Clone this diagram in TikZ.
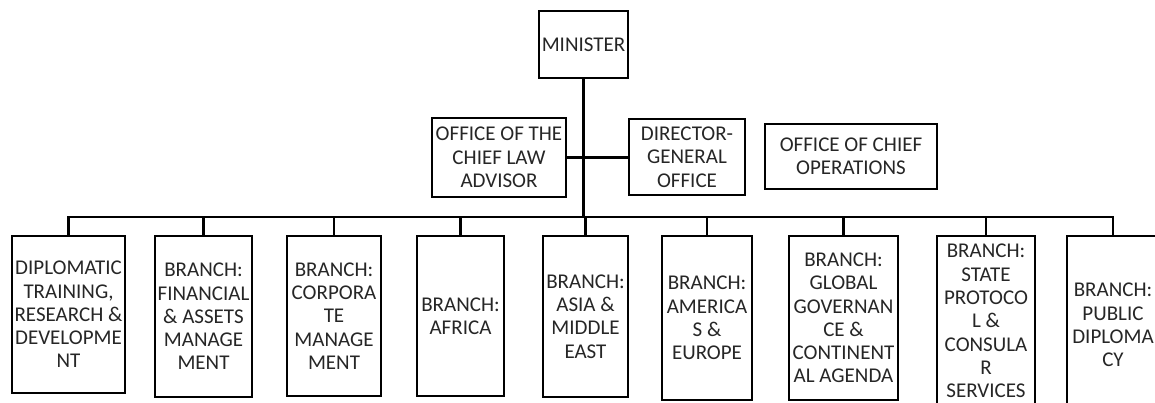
\documentclass[tikz,border=0pt]{standalone}
\usepackage{fontspec}
\setmainfont{Carlito}
\begin{document}
\begin{tikzpicture}[x=1pt,y=-1pt,
  box/.style={draw=black,line width=2.8pt,inner sep=0pt,fill=white},
  txt/.style={align=center,inner sep=0pt,text=black!85,font=\fontsize{21}{23.3}\selectfont},
  conn/.style={draw=black,line width=2.8pt}]
\useasboundingbox (0,0) rectangle (1155,403);
% top boxes
\node[box,minimum width=89pt,minimum height=67pt] (min) at (583.5,44.5) {};
\node[txt] (mint) at (min) {MINISTER};
\node[box,minimum width=134pt,minimum height=79pt] (law) at (499,157.5) {};
\node[txt] (lawt) at (law) {OFFICE OF THE\\CHIEF LAW\\ADVISOR};
\node[box,minimum width=116pt,minimum height=76pt] (dg) at (687,157) {};
\node[txt] (dgt) at (dg) {DIRECTOR-\\GENERAL\\OFFICE};
\node[box,minimum width=172pt,minimum height=65pt] (ops) at (851,156.5) {};
\node[txt] (opst) at (ops) {OFFICE OF CHIEF\\OPERATIONS};
% bottom boxes
\node[box,minimum width=113pt,minimum height=157pt] (b1) at (68.5,314.5) {};
\node[txt] (b1t) at (b1) {DIPLOMATIC\\TRAINING,\\RESEARCH \&\\DEVELOPME\\NT};
\node[box,minimum width=97pt,minimum height=161pt] (b2) at (203.5,316.5) {};
\node[txt] (b2t) at (b2) {BRANCH:\\FINANCIAL\\\& ASSETS\\MANAGE\\MENT};
\node[box,minimum width=94pt,minimum height=160pt] (b3) at (334,316) {};
\node[txt] (b3t) at (b3) {BRANCH:\\CORPORA\\TE\\MANAGE\\MENT};
\node[box,minimum width=87pt,minimum height=160pt] (b4) at (460.5,316) {};
\node[txt] (b4t) at (b4) {BRANCH:\\AFRICA};
\node[box,minimum width=85pt,minimum height=161pt] (b5) at (585.5,316.5) {};
\node[txt] (b5t) at (b5) {BRANCH:\\ASIA \&\\MIDDLE\\EAST};
\node[box,minimum width=90pt,minimum height=164pt] (b6) at (707,318) {};
\node[txt] (b6t) at (b6) {BRANCH:\\AMERICA\\S \&\\EUROPE};
\node[box,minimum width=109pt,minimum height=164pt] (b7) at (843.5,318) {};
\node[txt] (b7t) at (b7) {BRANCH:\\GLOBAL\\GOVERNAN\\CE \&\\CONTINENT\\AL AGENDA};
\node[box,minimum width=98pt,minimum height=170pt] (b8) at (986,321) {};
\node[txt] (b8t) at (b8) {BRANCH:\\STATE\\PROTOCO\\L \&\\CONSULA\\R\\SERVICES};
\node[box,minimum width=92pt,minimum height=178pt] (b9) at (1113,325) {};
\node[txt] (b9t) at (b9) {BRANCH:\\PUBLIC\\DIPLOMA\\CY};
% connectors
\coordinate (bus) at (584,217);
\draw[conn] (min.south) -- (min.south |- bus);
\draw[conn] (law.east) -- (law.east -| dg.west);
\draw[conn] (b1.north) -- (b1.north |- bus) -- (b9.north |- bus) -- (b9.north);
\foreach \b in {b2,b3,b4,b5,b6,b7,b8}{
  \draw[conn] (\b.north) -- (\b.north |- bus);
}
\end{tikzpicture}
\end{document}
